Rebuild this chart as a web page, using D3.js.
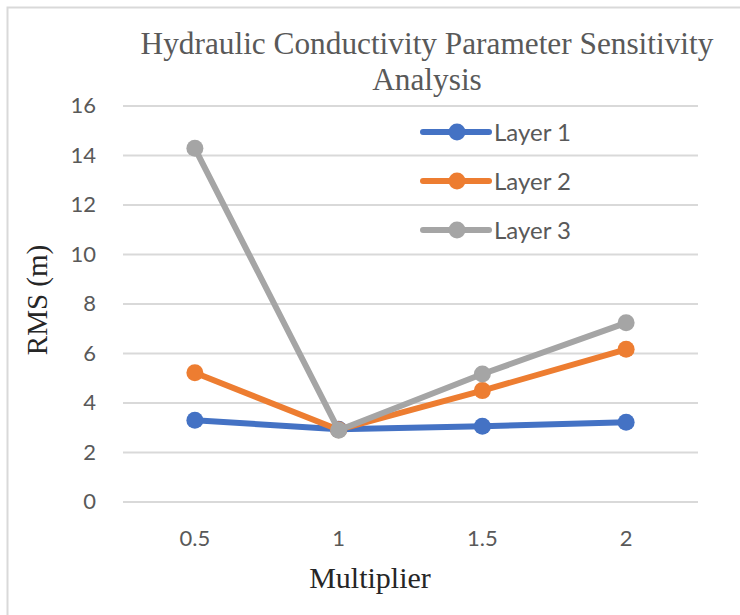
<!DOCTYPE html>
<html>
<head>
<meta charset="utf-8">
<script src="https://cdn.jsdelivr.net/npm/d3@7"></script>
<style>
  body { margin: 0; background: #fff; }
  svg { display: block; }
</style>
</head>
<body>
<div id="chart"></div>
<script>
// Chart data
const multipliers = ["0.5", "1", "1.5", "2"];
const layer1 = [3.28, 2.92, 3.04, 3.2];
const layer2 = [5.2, 2.9, 4.48, 6.15];
const layer3 = [14.27, 2.88, 5.15, 7.22];
const seriesNames = ["Layer 1", "Layer 2", "Layer 3"];
const seriesColors = ["#4472C4", "#ED7D31", "#A5A5A5"];
const yTicks = [0, 2, 4, 6, 8, 10, 12, 14, 16];

const series = [layer1, layer2, layer3].map((values, i) => ({
  name: seriesNames[i],
  color: seriesColors[i],
  values: values.map((v, j) => ({ m: multipliers[j], v: v })),
}));

const width = 740;
const height = 615;
const plot = { left: 123, right: 698, top: 105.5, bottom: 501.5 };

const svg = d3
  .select("#chart")
  .append("svg")
  .attr("width", width)
  .attr("height", height);

// Outer border (cropped at right and bottom)
svg
  .append("rect")
  .attr("x", 7.5)
  .attr("y", 7.5)
  .attr("width", 900)
  .attr("height", 900)
  .attr("fill", "none")
  .attr("stroke", "#d9d9d9")
  .attr("stroke-width", 2);

// Scales
const x = d3
  .scaleBand()
  .domain(multipliers)
  .range([plot.left, plot.right]);

const y = d3
  .scaleLinear()
  .domain([0, 16])
  .range([plot.bottom, plot.top]);

// Y axis with gridlines
const yAxis = svg
  .append("g")
  .attr("transform", `translate(${plot.left},0)`)
  .call(
    d3
      .axisLeft(y)
      .tickValues(yTicks)
      .tickSizeInner(-(plot.right - plot.left))
      .tickSizeOuter(0)
      .tickPadding(27)
  );
yAxis.select(".domain").remove();
yAxis.selectAll(".tick line").attr("stroke", "#d9d9d9").attr("stroke-width", 2);
yAxis
  .selectAll(".tick text")
  .attr("fill", "#595959")
  .style("font-family", "Lato, 'Open Sans', sans-serif")
  .style("font-size", "22px");

// X axis
const xAxis = svg
  .append("g")
  .attr("transform", `translate(0,${plot.bottom})`)
  .call(d3.axisBottom(x).tickSize(0).tickPadding(29));
xAxis.select(".domain").remove();
xAxis
  .selectAll(".tick text")
  .attr("fill", "#595959")
  .style("font-family", "Lato, 'Open Sans', sans-serif")
  .style("font-size", "22px");

// Lines and markers
const line = d3
  .line()
  .x((d) => x(d.m) + x.bandwidth() / 2)
  .y((d) => y(d.v));

series.forEach((s) => {
  const g = svg.append("g");
  g.append("path")
    .datum(s.values)
    .attr("fill", "none")
    .attr("stroke", s.color)
    .attr("stroke-width", 6)
    .attr("stroke-linejoin", "round")
    .attr("d", line);
  g.selectAll("circle")
    .data(s.values)
    .join("circle")
    .attr("cx", (d) => x(d.m) + x.bandwidth() / 2)
    .attr("cy", (d) => y(d.v))
    .attr("r", 8.5)
    .attr("fill", s.color);
});

// Legend
const legend = svg
  .append("g")
  .selectAll("g")
  .data(series)
  .join("g")
  .attr("transform", (d, i) => `translate(423,${132 + i * 49})`);
legend
  .append("line")
  .attr("x1", 0)
  .attr("x2", 66)
  .attr("stroke", (d) => d.color)
  .attr("stroke-width", 6)
  .attr("stroke-linecap", "round");
legend
  .append("circle")
  .attr("cx", 34)
  .attr("r", 8.5)
  .attr("fill", (d) => d.color);
legend
  .append("text")
  .text((d) => d.name)
  .attr("x", 71)
  .attr("dy", "0.36em")
  .attr("fill", "#595959")
  .style("font-family", "Lato, 'Open Sans', sans-serif")
  .style("font-size", "24px");

// Title
const title = svg
  .append("text")
  .attr("text-anchor", "middle")
  .attr("fill", "#595959")
  .style("font-family", "'Liberation Serif', 'Times New Roman', serif")
  .style("font-size", "31.3px");
title.append("tspan").attr("x", 427).attr("y", 54).text("Hydraulic Conductivity Parameter Sensitivity");
title.append("tspan").attr("x", 427).attr("y", 90).text("Analysis");

// Axis titles
svg
  .append("text")
  .text("Multiplier")
  .attr("x", 370)
  .attr("y", 588)
  .attr("text-anchor", "middle")
  .attr("fill", "#262626")
  .style("font-family", "'Liberation Serif', 'Times New Roman', serif")
  .style("font-size", "30px");

svg
  .append("text")
  .text("RMS (m)")
  .attr("transform", "translate(47,300) rotate(-90)")
  .attr("text-anchor", "middle")
  .attr("fill", "#262626")
  .style("font-family", "'Liberation Serif', 'Times New Roman', serif")
  .style("font-size", "29px");
</script>
</body>
</html>
